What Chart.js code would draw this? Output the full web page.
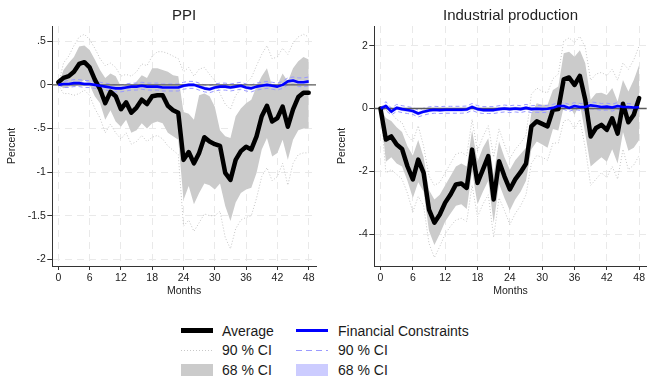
<!DOCTYPE html>
<html><head><meta charset="utf-8">
<script src="https://cdn.jsdelivr.net/npm/chart.js@4.4.1/dist/chart.umd.min.js"></script>
<style>
body{margin:0;background:#fff;width:648px;height:376px;overflow:hidden;position:relative;font-family:"Liberation Sans",Arial,sans-serif;}
canvas{position:absolute;top:0;}
.lg{position:absolute;font-size:14px;color:#1a1a1a;line-height:16px;white-space:nowrap;}
.sw{position:absolute;}
</style></head><body>
<canvas id="c1" width="330" height="300" style="left:0px"></canvas>
<canvas id="c2" width="318" height="300" style="left:330px"></canvas>
<div id="legend"></div>
<script>
// ---------- data ----------
const months = [0,1,2,3,4,5,6,7,8,9,10,11,12,13,14,15,16,17,18,19,20,21,22,23,24,25,26,27,28,29,30,31,32,33,34,35,36,37,38,39,40,41,42,43,44,45,46,47,48];
const xTicks = [0,6,12,18,24,30,36,42,48];
const xTickLabels = ["0","6","12","18","24","30","36","42","48"];

const ppiTitle = "PPI";
const ppiYTicks = [0.5,0,-0.5,-1,-1.5,-2];
const ppiYLabels = [".5","0","-.5","-1","-1.5","-2"];
const ppiAvg = [0.03,0.08,0.10,0.15,0.24,0.26,0.20,0.06,-0.05,-0.21,-0.08,-0.13,-0.28,-0.20,-0.32,-0.26,-0.17,-0.22,-0.13,-0.12,-0.12,-0.24,-0.29,-0.32,-0.86,-0.77,-0.90,-0.78,-0.60,-0.65,-0.68,-0.70,-1.01,-1.09,-0.86,-0.76,-0.71,-0.74,-0.59,-0.36,-0.24,-0.42,-0.38,-0.25,-0.48,-0.28,-0.14,-0.09,-0.09];
const ppiHi68 = [0.00,0.17,0.25,0.32,0.44,0.45,0.40,0.29,0.17,0.08,0.13,0.10,-0.02,0.00,-0.02,0.04,0.11,0.08,0.19,0.19,0.17,0.15,0.11,0.10,-0.31,-0.33,-0.40,-0.12,-0.10,-0.13,-0.25,-0.52,-0.59,-0.61,-0.36,-0.27,-0.21,-0.17,-0.02,0.10,0.19,-0.02,0.00,0.13,0.04,0.19,0.27,0.32,0.29];
const ppiLo68 = [0.00,-0.04,-0.02,-0.02,0.01,0.06,0.00,-0.13,-0.21,-0.40,-0.29,-0.42,-0.48,-0.40,-0.55,-0.52,-0.44,-0.50,-0.44,-0.42,-0.44,-0.55,-0.59,-0.63,-1.32,-1.16,-1.37,-1.24,-1.13,-1.15,-1.20,-1.13,-1.39,-1.56,-1.35,-1.24,-1.20,-1.18,-1.01,-0.74,-0.61,-0.82,-0.78,-0.63,-0.86,-0.63,-0.52,-0.50,-0.50];
const ppiHi90 = [0.00,0.25,0.33,0.45,0.55,0.58,0.52,0.42,0.30,0.22,0.25,0.20,0.10,0.12,0.10,0.15,0.24,0.22,0.33,0.38,0.38,0.36,0.33,0.30,0.15,0.20,0.10,0.18,0.20,0.12,0.05,-0.10,-0.22,-0.28,-0.12,-0.05,0.02,0.08,0.22,0.35,0.45,0.30,0.32,0.42,0.35,0.48,0.55,0.58,0.55];
const ppiLo90 = [0.00,-0.10,-0.10,-0.12,-0.10,-0.06,-0.12,-0.27,-0.38,-0.55,-0.45,-0.55,-0.62,-0.55,-0.68,-0.65,-0.58,-0.65,-0.60,-0.58,-0.62,-0.70,-0.75,-0.80,-1.62,-1.55,-1.68,-1.58,-1.48,-1.50,-1.50,-1.45,-1.75,-1.88,-1.65,-1.55,-1.52,-1.50,-1.30,-1.05,-0.95,-1.10,-1.05,-0.90,-1.15,-0.90,-0.80,-0.78,-0.78];
const ppiFC = [0.00,0.01,0.01,0.02,0.02,0.01,0.01,0.00,-0.01,-0.02,-0.03,-0.04,-0.04,-0.03,-0.02,-0.02,-0.01,-0.02,-0.02,-0.02,-0.03,-0.03,-0.03,-0.03,-0.01,0.00,0.00,-0.02,-0.04,-0.05,-0.03,-0.02,-0.02,-0.03,-0.02,-0.01,-0.03,-0.04,-0.02,-0.01,0.00,-0.01,-0.02,0.00,0.04,0.05,0.03,0.03,0.04];
const ppiFCHi68 = [0.00,0.02,0.03,0.04,0.04,0.03,0.03,0.02,0.01,0.00,-0.01,-0.02,-0.02,-0.01,0.00,0.00,0.01,0.00,0.00,0.00,-0.01,-0.01,-0.01,-0.01,0.01,0.02,0.02,0.00,-0.02,-0.03,-0.01,0.00,0.00,-0.01,0.00,0.01,-0.01,-0.02,0.00,0.01,0.02,0.01,0.00,0.02,0.06,0.07,0.05,0.05,0.06];
const ppiFCLo68 = [0.00,-0.01,-0.01,0.00,0.00,-0.01,-0.01,-0.02,-0.03,-0.04,-0.05,-0.06,-0.06,-0.05,-0.04,-0.04,-0.03,-0.04,-0.04,-0.04,-0.05,-0.05,-0.05,-0.05,-0.03,-0.02,-0.02,-0.04,-0.06,-0.07,-0.05,-0.04,-0.04,-0.05,-0.04,-0.03,-0.05,-0.06,-0.04,-0.03,-0.02,-0.03,-0.04,-0.02,0.02,0.03,0.01,0.01,0.02];
const ppiFCHi90 = [0.00,0.04,0.05,0.06,0.06,0.05,0.05,0.04,0.03,0.02,0.01,0.00,0.00,0.01,0.02,0.02,0.03,0.02,0.02,0.02,0.01,0.01,0.01,0.01,0.03,0.04,0.04,0.02,0.00,-0.01,0.01,0.02,0.02,0.01,0.02,0.03,0.01,0.00,0.02,0.03,0.04,0.03,0.02,0.04,0.08,0.09,0.08,0.08,0.09];
const ppiFCLo90 = [0.00,-0.03,-0.03,-0.02,-0.02,-0.03,-0.03,-0.04,-0.05,-0.06,-0.07,-0.08,-0.08,-0.07,-0.06,-0.06,-0.05,-0.06,-0.06,-0.06,-0.07,-0.07,-0.07,-0.07,-0.05,-0.04,-0.04,-0.06,-0.08,-0.09,-0.07,-0.06,-0.06,-0.07,-0.06,-0.05,-0.07,-0.08,-0.06,-0.05,-0.04,-0.05,-0.06,-0.04,0.00,0.01,-0.02,-0.02,-0.01];

const ipTitle = "Industrial production";
const ipYTicks = [2,0,-2,-4];
const ipYLabels = ["2","0","-2","-4"];
const ipAvg = [0.00,-0.99,-0.89,-1.15,-1.29,-1.84,-2.26,-1.63,-2.05,-3.22,-3.64,-3.38,-3.00,-2.74,-2.42,-2.39,-2.53,-1.31,-2.37,-1.95,-1.52,-2.90,-1.68,-2.16,-2.58,-2.26,-2.03,-1.76,-0.57,-0.41,-0.49,-0.57,-0.04,-0.02,0.93,0.99,0.75,1.04,0.28,-0.89,-0.62,-0.52,-0.68,-0.31,-0.80,0.15,-0.44,-0.20,0.33];
const ipHi68 = [0.00,-0.30,-0.40,-0.60,-0.75,-1.20,-1.50,-1.00,-1.55,-2.60,-2.90,-2.75,-2.45,-2.15,-1.85,-1.75,-1.85,-0.70,-1.70,-1.25,-0.95,-2.10,-1.05,-1.55,-1.95,-1.65,-1.45,-1.25,-0.15,0.17,0.12,0.12,0.59,0.70,1.76,1.81,1.65,1.86,1.44,0.28,0.49,0.50,0.43,0.65,0.22,0.91,0.54,0.91,1.39];
const ipLo68 = [0.00,-1.70,-1.55,-1.75,-1.85,-2.30,-2.85,-2.35,-2.65,-3.90,-4.35,-4.00,-3.60,-3.35,-3.10,-3.05,-3.20,-2.00,-3.05,-2.65,-2.30,-3.65,-2.40,-2.85,-3.25,-2.90,-2.65,-2.30,-1.30,-1.05,-1.15,-1.25,-0.65,-0.70,0.05,0.10,-0.20,0.15,-0.80,-1.85,-1.70,-1.55,-1.70,-1.30,-1.75,-0.75,-1.35,-1.25,-1.00];
const ipHi90 = [0.00,-0.05,-0.15,-0.35,-0.45,-0.85,-1.05,-0.55,-1.20,-2.15,-2.45,-2.35,-2.05,-1.75,-1.45,-1.40,-1.50,-0.35,-1.35,-0.90,-0.55,-1.55,-0.65,-1.15,-1.60,-1.30,-1.10,-0.85,0.45,0.65,0.55,0.50,0.95,1.10,2.15,2.25,2.10,2.30,1.95,0.90,1.10,1.15,1.05,1.25,0.90,1.45,1.25,1.55,2.00];
const ipLo90 = [0.00,-2.05,-1.95,-2.10,-2.25,-2.70,-3.30,-2.80,-3.10,-4.30,-4.75,-4.40,-4.00,-3.75,-3.55,-3.50,-3.60,-2.45,-3.45,-3.05,-2.75,-4.10,-2.85,-3.25,-3.70,-3.35,-3.10,-2.75,-1.75,-1.50,-1.55,-1.65,-1.10,-1.10,-0.40,-0.35,-0.65,-0.35,-1.25,-2.45,-2.25,-2.05,-2.20,-1.85,-2.25,-1.30,-1.95,-1.80,-1.50];
const ipFC = [0.00,0.08,-0.10,0.02,-0.02,-0.05,-0.08,-0.16,-0.10,-0.06,-0.04,-0.05,-0.04,-0.04,-0.04,-0.04,-0.03,0.05,-0.02,-0.05,-0.05,-0.05,-0.02,0.00,-0.02,0.00,-0.02,0.02,-0.02,-0.01,-0.02,-0.01,0.02,0.08,0.08,0.02,0.08,0.05,0.05,0.10,0.08,0.05,0.06,0.03,0.08,0.05,0.05,0.03,0.04];
const ipFCHi68 = [0.00,0.16,-0.03,0.08,0.04,0.01,-0.02,-0.10,-0.04,0.00,0.02,0.01,0.02,0.02,0.02,0.02,0.03,0.11,0.04,0.01,0.01,0.01,0.04,0.06,0.04,0.06,0.04,0.08,0.04,0.05,0.04,0.05,0.08,0.14,0.14,0.08,0.14,0.11,0.11,0.16,0.14,0.11,0.12,0.09,0.14,0.11,0.11,0.09,0.10];
const ipFCLo68 = [0.00,0.00,-0.17,-0.04,-0.08,-0.11,-0.14,-0.22,-0.16,-0.12,-0.10,-0.11,-0.10,-0.10,-0.10,-0.10,-0.09,-0.01,-0.08,-0.11,-0.11,-0.11,-0.08,-0.06,-0.08,-0.06,-0.08,-0.04,-0.08,-0.07,-0.08,-0.07,-0.04,0.02,0.02,-0.04,0.02,-0.01,-0.01,0.04,0.02,-0.01,0.00,-0.03,0.02,-0.01,-0.01,-0.03,-0.02];
const ipFCHi90 = [0.00,0.22,0.01,0.13,0.09,0.06,0.03,-0.05,0.01,0.05,0.07,0.06,0.07,0.07,0.07,0.07,0.08,0.16,0.09,0.06,0.06,0.06,0.09,0.11,0.09,0.11,0.09,0.13,0.09,0.10,0.09,0.10,0.13,0.19,0.19,0.13,0.19,0.16,0.16,0.21,0.19,0.16,0.17,0.14,0.19,0.16,0.16,0.14,0.15];
const ipFCLo90 = [0.00,-0.06,-0.21,-0.09,-0.13,-0.16,-0.19,-0.27,-0.21,-0.17,-0.15,-0.16,-0.15,-0.15,-0.15,-0.15,-0.14,-0.06,-0.13,-0.16,-0.16,-0.16,-0.13,-0.11,-0.13,-0.11,-0.13,-0.09,-0.13,-0.12,-0.13,-0.12,-0.09,-0.03,-0.03,-0.09,-0.03,-0.06,-0.06,-0.01,-0.03,-0.06,-0.05,-0.08,-0.03,-0.06,-0.06,-0.08,-0.07];

const legendLabels = ["Average","Financial Constraints","90 % CI","90 % CI","68 % CI","68 % CI"];
const xTitle = "Months";
const yTitle = "Percent";

// ---------- drawing ----------
const F = '"Liberation Sans", Arial, sans-serif';
const TXT = '#222';
const pts = arr => months.map((m,i) => ({x:m, y:arr[i]}));

const panelPlugin = {
  id: 'panel',
  beforeDatasetDraw(chart, args) {
    if (args.index !== 0) return;
    const {ctx, chartArea:a} = chart;
    const y = chart.scales.y.getPixelForValue(0);
    ctx.save();
    ctx.strokeStyle = '#5a5a5a'; ctx.lineWidth = 1.3;
    ctx.beginPath(); ctx.moveTo(a.left, y); ctx.lineTo(a.right, y); ctx.stroke();
    ctx.restore();
  },
  afterDraw(chart, args, opts) {
    const {ctx, chartArea:a} = chart;
    ctx.save();
    ctx.font = '15px ' + F; ctx.fillStyle = TXT;
    ctx.textAlign = 'center'; ctx.textBaseline = 'middle';
    ctx.fillText(opts.text, (a.left + a.right) / 2, 15.5);
    ctx.restore();
  }
};

function makePanel(id, title, s, yMin, yMax, yTicks, yLabels, yWidth, padRight) {
  const line = (data, o) => Object.assign({data: pts(data), pointRadius:0, tension:0, fill:false, borderWidth:0}, o);
  const datasets = [
    line(s.avg,  {order:1, borderColor:'#000000', borderWidth:4.5, borderJoinStyle:'round', borderCapStyle:'round'}),
    line(s.fc,   {order:0, borderColor:'#0000ff', borderWidth:2.6, borderJoinStyle:'round'}),
    line(s.fcHi68, {order:2, fill:'+1', backgroundColor:'rgba(204,204,255,1)'}),
    line(s.fcLo68, {order:2}),
    line(s.fcHi90, {order:3, borderColor:'#9a9aff', borderWidth:1, borderDash:[4,3]}),
    line(s.fcLo90, {order:3, borderColor:'#9a9aff', borderWidth:1, borderDash:[4,3]}),
    line(s.hi68, {order:4, fill:'+1', backgroundColor:'#cbcbcb'}),
    line(s.lo68, {order:4}),
    line(s.hi90, {order:5, borderColor:'#c4c4c4', borderWidth:1, borderDash:[1,2]}),
    line(s.lo90, {order:5, borderColor:'#c4c4c4', borderWidth:1, borderDash:[1,2]})
  ];
  const grid = {color:'#e9e9e9', lineWidth:1, tickColor:'#333', tickBorderDash:[], drawTicks:true};
  return new Chart(document.getElementById(id), {
    type: 'line',
    data: {datasets},
    plugins: [panelPlugin],
    options: {
      responsive:false, animation:false, devicePixelRatio:1,
      layout: {padding:{top:26, right:padRight, left:0, bottom:0}},
      plugins: {legend:{display:false}, tooltip:{enabled:false}, title:{display:false}, panel:{text:title}},
      scales: {
        x: {
          type:'linear', min:-1.15, max:49.4,
          afterBuildTicks: sc => { sc.ticks = xTicks.map(v => ({value:v})); },
          afterFit: sc => { sc.height = 34; },
          ticks: {autoSkip:false, maxRotation:0, padding:2, color:TXT, font:{family:F, size:10.5}, callback:(v,i) => xTickLabels[i]},
          grid: Object.assign({tickLength:4}, grid),
          border: {display:true, color:'#333', width:1, dash:[7,5]},
          title: {display:true, text:xTitle, color:TXT, font:{family:F, size:10.5}, padding:{top:0, bottom:3}}
        },
        y: {
          min:yMin, max:yMax,
          afterBuildTicks: sc => { sc.ticks = yTicks.map(v => ({value:v})); },
          afterFit: sc => { sc.width = yWidth; },
          ticks: {padding:1.5, color:TXT, font:{family:F, size:10.5}, callback:(v,i) => yLabels[i]},
          grid: Object.assign({tickLength:5}, grid),
          border: {display:true, color:'#333', width:1, dash:[7,5]},
          title: {display:true, text:yTitle, color:TXT, font:{family:F, size:10.5}, padding:{top:6, bottom:0}}
        }
      }
    }
  });
}

makePanel('c1', ppiTitle, {avg:ppiAvg, hi68:ppiHi68, lo68:ppiLo68, hi90:ppiHi90, lo90:ppiLo90, fc:ppiFC, fcHi68:ppiFCHi68, fcLo68:ppiFCLo68, fcHi90:ppiFCHi90, fcLo90:ppiFCLo90},
  -2.077, 0.675, ppiYTicks, ppiYLabels, 52.3, 14);
makePanel('c2', ipTitle, {avg:ipAvg, hi68:ipHi68, lo68:ipLo68, hi90:ipHi90, lo90:ipLo90, fc:ipFC, fcHi68:ipFCHi68, fcLo68:ipFCLo68, fcHi90:ipFCHi90, fcLo90:ipFCLo90},
  -5.02, 2.63, ipYTicks, ipYLabels, 44.3, 1.3);

// ---------- legend ----------
const lg = document.getElementById('legend');
function add(cls, style, text) {
  const d = document.createElement('div'); d.className = cls;
  Object.assign(d.style, style); if (text) d.textContent = text; lg.appendChild(d);
}
const rowY = [330.7, 350, 370];
const colSw = [181, 296], colTx = [222, 338];
const swatches = [
  {height:'5px', background:'#000', off:-2.5},
  {height:'3px', background:'#0000ff', off:-1.5},
  {height:'1px', background:'repeating-linear-gradient(90deg,#c8c8c8 0 1px,transparent 1px 3px)', off:-0.5},
  {height:'1px', background:'repeating-linear-gradient(90deg,#9a9aff 0 6px,transparent 6px 10px)', off:-0.5},
  {height:'12.5px', background:'#cbcbcb', off:-6.5},
  {height:'12.5px', background:'#ccccff', off:-6.5}
];
legendLabels.forEach((lab, i) => {
  const r = Math.floor(i/2), c = i % 2, sw = swatches[i];
  add('sw', {left:colSw[c]+'px', top:(rowY[r]+sw.off)+'px', width:'32px', height:sw.height, background:sw.background});
  add('lg', {left:colTx[c]+'px', top:(rowY[r]-8)+'px'}, lab);
});
</script>
</body></html>
